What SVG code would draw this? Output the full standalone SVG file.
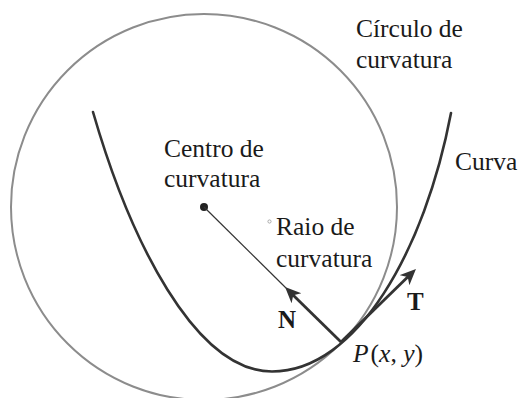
<svg xmlns="http://www.w3.org/2000/svg" width="519" height="398" viewBox="0 0 519 398">
<style>
text{font-family:"Liberation Serif","Times New Roman",serif;font-size:25.5px;fill:#1a1a1a}
.b{font-weight:bold;font-size:25px}
.i{font-style:italic}
.curve{fill:none;stroke:#333;stroke-width:2.6;stroke-linecap:round}
.circ{fill:none;stroke:#8c8c8c;stroke-width:2}
.vec{fill:none;stroke:#333;stroke-width:2.8}
</style>
<defs>
<marker id="ah" markerUnits="userSpaceOnUse" markerWidth="18" markerHeight="16" refX="12" refY="7" orient="auto">
<path d="M0,0 L16,7 L0,14 L4.5,7 z" fill="#333"/>
</marker>
</defs>
<g id="circle-of-curvature"><circle class="circ" cx="204" cy="207" r="193"/></g>
<g id="curve"><path class="curve" d="M93,112 C130,240 195,371.5 272,371.5 C357,371.5 425,250 451,113"/></g>
<g id="center"><circle cx="204" cy="207" r="4" fill="#222"/></g>
<g id="connectors">
<line x1="204" y1="207" x2="286" y2="288" stroke="#333" stroke-width="1.2"/>
<line class="vec" x1="341" y1="342" x2="287.9" y2="289.9" marker-end="url(#ah)"/>
<line class="vec" x1="341" y1="342" x2="413.1" y2="271.8" marker-end="url(#ah)"/>
</g>
<circle cx="269.5" cy="221.5" r="1.6" fill="none" stroke="#999" stroke-width="0.8"/>
<g id="label-circulo"><text x="356" y="37">Círculo de</text><text x="356" y="68">curvatura</text></g>
<g id="label-centro"><text x="164" y="157">Centro de</text><text x="164" y="187">curvatura</text></g>
<g id="label-curva"><text x="455" y="170">Curva</text></g>
<g id="label-raio"><text x="276" y="235">Raio de</text><text x="276" y="267">curvatura</text></g>
<g id="label-N"><text class="b" x="278" y="328">N</text></g>
<g id="label-T"><text class="b" x="407" y="310">T</text></g>
<g id="label-P"><text x="353" y="362"><tspan class="i">P</tspan><tspan dx="2">(</tspan><tspan class="i">x</tspan>, <tspan class="i">y</tspan>)</text></g>
</svg>
